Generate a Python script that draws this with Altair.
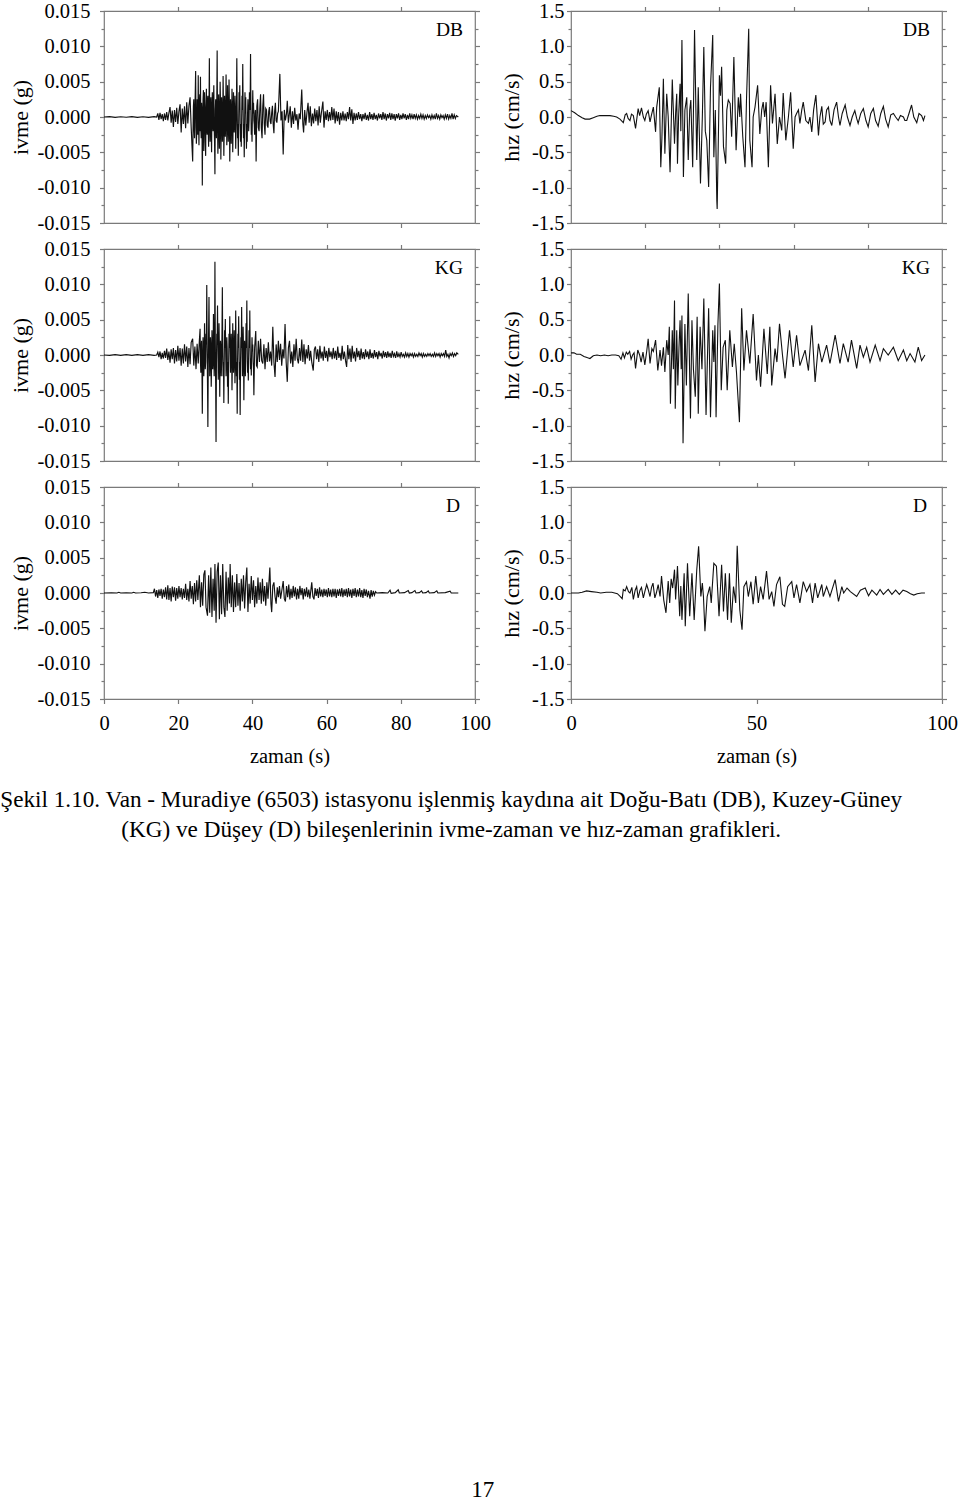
import altair as alt
import pandas as pd

FONT = "Liberation Serif"
PW, PH = 371, 212
GRAY = "#7a7a7a"

# ---------------- data (time in s, acceleration in milli-g, velocity in cm/s) ----------------
DB_ACC = [(0,0),(1.5,0.05),(3,-0.05),(4.5,0.04),(6,-0.04),(7.5,0.05),(9,-0.05),(10.5,0.04),(12,-0.05),(13.5,0.05),(14.2,0.0),
(14.5,0.5),(14.8,-0.4),(15.1,0.6),(15.4,-0.3),(15.7,0.4),(16.0,-0.6),(16.3,0.5),(16.6,-0.4),(16.9,0.7),(17.2,-0.5),(17.5,0.6),(17.8,1.4),(18.1,-0.8),(18.4,0.9),(18.7,-1.4),(19.0,1.0),(19.3,-0.7),(19.6,1.3),(19.9,-1.0),(20.2,0.8),(20.5,1.8),(20.8,-2.2),(21.1,1.2),(21.4,-1.0),(21.7,1.5),(22.0,-1.6),(22.3,2.1),(22.6,-0.9),(22.9,1.6),(23.2,2.8),(23.5,-1.5),
(23.9,-6.3),(24.0,-2.0),(24.1,1.5),(24.2,2.5),(24.3,-1.8),(24.4,-3.0),(24.5,1.0),(24.6,3.5),(24.7,6.5),(24.8,-1.5),(24.9,-3.8),(25.0,-2.0),(25.1,2.5),(25.2,1.0),(25.3,-2.5),(25.4,5.9),(25.5,-1.0),(25.6,-4.0),(25.7,1.5),(25.8,3.2),(25.9,-2.0),(26.0,5.7),(26.1,-1.5),(26.2,-3.0),(26.3,2.0),(26.4,1.0),(26.5,-9.7),(26.6,-1.0),(26.7,2.5),(26.8,3.8),(26.9,-4.8),(27.0,-1.0),(27.1,3.5),(27.2,1.5),(27.3,-3.5),(27.4,-5.5),(27.5,1.0),(27.6,4.0),(27.7,-1.5),(27.8,-2.5),(27.9,2.5),(28.0,3.0),(28.1,-2.0),(28.2,-4.2),(28.3,1.0),(28.4,8.3),(28.5,-1.0),(28.6,-3.5),(28.7,1.5),(28.8,2.8),(28.9,-2.0),(29.0,-5.0),(29.1,1.5),(29.2,3.5),(29.3,-1.0),(29.4,-2.0),(29.5,2.0),(29.6,4.5),(29.7,-1.5),(29.8,-3.5),(29.9,-8.1),(30.0,1.0),(30.1,2.5),(30.2,-1.5),(30.3,-3.0),(30.4,2.0),(30.5,9.4),(30.6,-1.0),(30.7,-5.2),(30.8,-2.0),(30.9,3.2),(31.0,1.0),(31.1,-4.5),(31.2,-1.5),(31.3,5.0),(31.4,2.0),(31.5,-6.0),(31.6,-1.0),(31.7,2.8),(31.8,1.0),(31.9,-3.5),(32.0,-1.5),(32.1,5.8),(32.2,1.5),(32.3,-5.5),(32.4,-2.0),(32.5,3.0),(32.6,1.0),(32.7,-2.8),(32.8,-1.0),(32.9,6.0),(33.0,1.5),(33.1,-4.0),(33.2,-1.5),(33.3,4.5),(33.4,1.0),(33.5,-3.5),(33.6,-1.0),(33.7,5.3),(33.8,1.5),(33.9,-6.3),(34.0,-2.0),(34.1,2.5),(34.2,1.0),(34.3,-3.8),(34.4,-1.0),(34.5,4.0),(34.6,1.0),(34.7,-5.0),(34.8,-1.5),(34.9,3.5),(35.0,1.0),(35.1,-2.2),(35.2,-1.0),(35.3,3.0),(35.4,1.0),(35.5,-4.5),(35.6,-1.5),(35.7,2.0),(35.8,8.3),(35.9,1.0),(36.0,-3.0),(36.1,-1.0),(36.2,-5.5),(36.3,-1.0),(36.4,3.5),(36.5,1.0),(36.6,4.5),(36.7,-1.0),(36.8,-3.5),(36.9,-1.0),(37.0,-4.2),(37.1,-0.5),(37.2,3.0),(37.3,1.0),(37.4,7.5),(37.5,1.0),(37.6,-3.0),(37.7,-1.0),(37.8,-5.7),(37.9,-1.0),(38.0,3.5),(38.1,0.5),(38.2,2.8),(38.3,-1.0),(38.4,-4.5),(38.5,-1.0),(38.6,-3.5),(38.7,0.5),(38.8,2.5),(38.9,0.5),(39.0,-2.0),(39.1,-0.5),(39.2,3.5),(39.3,1.0),(39.4,2.0),(39.5,8.9),(39.6,1.0),(39.7,-2.5),(39.8,-1.0),(39.9,-3.5),(40.0,0.5),(40.1,3.8),(40.2,0.5),(40.3,2.0),(40.4,-0.5),(40.5,-1.0),(40.6,-2.5),(40.7,0.5),(40.8,1.0),(40.9,-1.5),(41.0,-6.3),
(41.2,1.5),(41.4,2.5),(41.6,-1.5),(41.8,-2.0),(42.0,1.2),(42.2,3.2),(42.4,-1.5),(42.6,-3.0),(42.8,1.5),(43.0,3.2),(43.2,-1.0),(43.4,-2.5),(43.6,1.2),(43.8,1.0),(44.0,-1.2),(44.2,-1.5),(44.4,0.8),(44.6,1.4),(44.8,-0.6),(45.0,-1.0),(45.2,0.6),(45.4,1.6),(45.6,-1.0),(45.8,-2.3),(46.0,0.8),(46.2,2.0),(46.4,-0.5),(46.6,-0.8),(46.8,0.5),(47.0,0.8),(47.4,6.1),(47.7,-0.5),(48.0,0.8),(48.3,-5.3),(48.6,1.0),(48.9,-0.5),(49.2,0.5),(49.4,2.3),(49.7,-0.8),(50.0,0.6),(50.2,1.5),(50.5,-1.5),(50.8,0.8),(51.1,-1.0),(51.4,1.3),(51.7,-0.5),(52.0,0.4),(52.3,-1.8),(52.6,0.5),(52.9,-0.3),(53.3,3.9),(53.6,-1.0),(53.8,-2.2),(54.1,1.0),(54.4,-1.2),(54.7,0.6),(55.0,2.0),(55.3,-0.8),(55.6,1.5),(55.9,-1.3),(56.2,0.5),(56.5,-0.9),(56.8,1.2),(57.1,-0.6),(57.4,1.0),(57.7,-1.2),(58.0,1.5),(58.3,-0.8),(58.6,0.6),(59.0,2.2),(59.3,-1.5),(59.6,0.8),(59.9,-0.4),(60.2,1.0),(60.5,-0.6),(60.8,0.7),(61.1,-0.5),(61.4,1.4),(61.7,-0.4),(62.0,1.2),(62.3,-0.9),(62.6,0.8),(62.9,-0.6),(63.2,0.7),(63.5,-1.1),(63.8,0.6),(64.1,-0.5),(64.4,0.8),(64.7,-0.5),(65.0,0.5),(65.3,-0.6),(65.6,0.7),(65.9,-0.3),(66.2,1.4),(66.5,-0.5),(66.8,1.1),(67.1,-1.0),(67.4,0.6),(67.7,-0.5),(68.0,0.5),(68.3,-0.4),(68.6,0.7),(68.9,-0.3),(69.2,0.4),(69.5,-0.6),(69.8,0.4),(70.1,-0.3),(70.4,0.6),(70.7,-0.4),(71.0,0.3),(71.3,-0.5),(71.6,0.7),(71.9,-0.3),(72.2,0.4),(72.5,-0.4),(72.8,0.6),(73.1,-0.3),(73.4,0.3),(73.7,-0.5),(74.0,0.5),(74.3,-0.2),(74.6,0.4),(74.9,-0.4),(75.2,0.7),(75.5,-0.3),(75.8,0.5),(76.1,-0.5),(76.4,0.4),(76.7,-0.2),(77.0,0.6),(77.3,-0.4),(77.6,0.5),(77.9,-0.3),(78.2,0.4),(78.5,-0.5),(78.8,0.4),(79.1,-0.2),(79.4,0.5),(79.7,-0.4),(80.0,0.3),(80.3,-0.3),(80.6,0.5),(80.9,-0.2),(81.2,0.4),(81.5,-0.4),(81.8,0.3),(82.1,-0.3),(82.4,0.5),(82.7,-0.2),(83.0,0.3),(83.3,-0.3),(83.6,0.4),(83.9,-0.2),(84.2,0.3),(84.5,-0.3),(84.8,0.2),(85.1,-0.2),(85.4,0.4),(85.7,-0.2),(86.0,0.3),(86.3,-0.3),(86.6,0.2),(86.9,-0.2),(87.2,0.3),(87.5,-0.1),(87.8,0.2),(88.1,-0.3),(88.4,0.3),(88.7,-0.2),(89.0,0.2),(89.3,-0.3),(89.6,0.5),(89.9,-0.2),(90.2,0.2),(90.5,-0.3),(90.8,0.3),(91.1,-0.1),(91.4,0.2),(91.7,-0.3),(92.0,0.3),(92.3,-0.2),(92.6,0.4),(92.9,-0.3),(93.2,0.2),(93.5,-0.2),(93.8,0.5),(94.1,-0.3),(94.4,0.3),(94.7,-0.2),(95.0,0.2),(95.5,0.0)]

KG_ACC = [(0,0),(1.5,-0.05),(3,0.05),(4.5,-0.05),(6,0.05),(7.5,-0.05),(9,0.05),(10.5,-0.05),(12,0.05),(13.5,-0.05),(14.2,0),
(14.5,0.4),(14.8,-0.3),(15.1,0.5),(15.4,-0.6),(15.7,0.3),(16.0,-0.5),(16.3,0.6),(16.6,-0.4),(16.9,0.9),(17.2,-0.7),(17.5,0.5),(17.8,-1.1),(18.1,0.8),(18.4,-0.6),(18.7,1.0),(19.0,-1.2),(19.3,0.7),(19.6,-0.9),(19.9,1.3),(20.2,-0.8),(20.5,1.0),(20.8,-1.5),(21.1,0.9),(21.4,-1.2),(21.7,1.5),(22.0,-0.9),(22.3,1.2),(22.6,-1.7),(22.9,1.0),(23.2,-1.3),(23.5,1.8),(23.9,2.3),(24.2,-1.5),(24.5,1.2),(24.8,-2.0),(25.1,1.6),(25.4,-1.2),(25.7,2.0),
(25.9,3.7),(26.0,-1.0),(26.1,-2.5),(26.2,1.0),(26.3,2.0),(26.4,-1.5),(26.5,-8.3),(26.6,-1.0),(26.7,2.5),(26.8,1.0),(26.9,-3.0),(27.0,-1.0),(27.1,4.5),(27.2,1.0),(27.3,-2.0),(27.4,-1.0),(27.5,3.0),(27.6,1.5),(27.7,9.9),(27.8,1.0),(27.9,-4.0),(28.0,-10.2),(28.1,-1.5),(28.2,3.5),(28.3,8.2),(28.4,1.0),(28.5,-3.0),(28.6,-1.0),(28.7,2.5),(28.8,1.0),(28.9,-4.5),(29.0,-1.5),(29.1,3.5),(29.2,1.0),(29.3,-2.0),(29.4,-1.0),(29.5,5.8),(29.6,1.0),(29.7,-3.0),(29.8,-1.0),(29.9,13.2),(30.0,2.0),(30.1,-4.0),(30.2,-12.3),(30.3,-1.5),(30.4,3.0),(30.5,1.5),(30.6,7.0),(30.7,1.0),(30.8,-3.5),(30.9,-1.0),(31.0,4.5),(31.1,1.0),(31.2,-5.9),(31.3,-1.0),(31.4,2.0),(31.5,1.0),(31.6,-3.0),(31.7,-1.0),(31.8,3.0),(31.9,9.6),(32.0,1.0),(32.1,-3.0),(32.2,-1.0),(32.3,-6.8),(32.4,-1.0),(32.5,3.5),(32.6,1.0),(32.7,5.1),(32.8,0.5),(32.9,-3.0),(33.0,-1.0),(33.1,2.5),(33.2,1.0),(33.3,-4.5),(33.4,-1.0),(33.5,-6.9),(33.6,-1.0),(33.7,3.0),(33.8,1.0),(33.9,5.5),(34.0,1.0),(34.1,-2.5),(34.2,-0.5),(34.3,3.0),(34.4,1.0),(34.5,-5.0),(34.6,-1.0),(34.7,4.5),(34.8,1.0),(34.9,-2.5),(35.0,-1.0),(35.1,3.5),(35.2,1.0),(35.3,-4.0),(35.4,-1.0),(35.5,6.3),(35.6,1.0),(35.7,-3.0),(35.8,-1.0),(35.9,-8.3),(36.0,-1.0),(36.1,3.0),(36.2,1.0),(36.3,5.5),(36.4,1.0),(36.5,-3.5),(36.6,-1.0),(36.7,-8.5),(36.8,-1.0),(36.9,2.5),(37.0,1.0),(37.1,6.8),(37.2,1.0),(37.3,-3.0),(37.4,-1.0),(37.5,4.0),(37.6,1.0),(37.7,-6.4),(37.8,-1.0),(37.9,2.0),(38.0,0.5),(38.1,-3.0),(38.2,-0.5),(38.3,4.5),(38.4,1.0),(38.5,7.7),(38.6,1.0),(38.7,-2.5),(38.8,-1.0),(38.9,-3.6),(39.0,0.5),(39.1,3.5),(39.2,1.0),(39.3,6.3),(39.4,0.5),(39.5,-2.0),(39.6,-0.5),(39.7,-2.9),(39.8,0.5),(39.9,2.5),(40.0,0.5),(40.1,1.5),(40.2,-1.0),(40.3,-2.0),(40.4,-5.7),
(40.6,1.0),(40.9,3.4),(41.1,-1.5),(41.3,-1.7),(41.6,2.0),(41.9,-1.0),(42.2,2.3),(42.5,-0.8),(42.8,-1.2),(43.1,1.5),(43.4,-2.0),(43.7,1.0),(44.0,-1.0),(44.3,1.8),(44.6,-0.9),(44.9,0.5),(45.2,-1.5),(45.5,4.0),(45.8,-1.0),(46.1,-3.1),(46.4,1.5),(46.7,-1.0),(47.0,2.0),(47.3,-0.7),(47.6,1.6),(47.9,-1.5),(48.2,0.8),(48.5,-0.5),(48.8,4.4),(49.1,-1.0),(49.4,-3.8),(49.7,1.0),(50.0,2.0),(50.3,-1.2),(50.6,0.5),(50.9,-1.7),(51.2,1.5),(51.5,-0.8),(51.8,2.3),(52.1,-0.5),(52.4,-1.2),(52.7,1.0),(53.0,-0.8),(53.3,2.2),(53.6,-1.0),(53.9,1.5),(54.2,-1.3),(54.5,0.8),(54.8,-0.5),(55.1,1.4),(55.4,-0.8),(55.7,0.6),(56.0,-1.0),(56.4,-2.2),(56.7,0.8),(57.0,1.2),(57.3,-0.6),(57.6,0.8),(57.9,-1.0),(58.2,1.3),(58.5,-0.5),(58.8,0.5),(59.1,-0.8),(59.4,1.2),(59.7,-0.4),(60.0,0.6),(60.3,-0.9),(60.6,1.0),(60.9,-0.3),(61.2,0.5),(61.5,-0.6),(61.8,1.0),(62.1,-0.5),(62.4,0.6),(62.7,-0.7),(63.0,1.2),(63.3,-0.4),(63.6,0.3),(63.9,-0.8),(64.2,1.3),(64.5,-0.6),(64.8,0.5),(65.1,-0.8),(65.4,-1.7),(65.7,1.4),(66.0,-0.6),(66.3,0.9),(66.6,-1.0),(66.9,1.3),(67.2,-0.5),(67.5,0.5),(67.8,-0.9),(68.1,1.0),(68.4,-0.3),(68.7,0.6),(69.0,-0.7),(69.3,0.9),(69.6,-0.5),(69.9,0.4),(70.2,-0.6),(70.5,0.8),(70.8,-0.3),(71.1,0.5),(71.4,-0.6),(71.7,0.8),(72.0,-0.4),(72.3,0.3),(72.6,-0.5),(72.9,0.7),(73.2,-0.3),(73.5,0.4),(73.8,-0.6),(74.1,0.6),(74.4,-0.2),(74.7,0.3),(75.0,-0.5),(75.3,0.6),(75.6,-0.3),(75.9,0.4),(76.2,-0.4),(76.5,0.5),(76.8,-0.3),(77.1,0.3),(77.4,-0.4),(77.7,0.6),(78.0,-0.2),(78.3,0.2),(78.6,-0.4),(78.9,0.5),(79.2,-0.3),(79.5,0.2),(79.8,-0.3),(80.1,0.4),(80.4,-0.2),(80.7,0.1),(81.0,-0.3),(81.3,0.3),(81.6,-0.2),(81.9,0.2),(82.2,-0.3),(82.5,0.2),(82.8,-0.1),(83.1,0.2),(83.4,-0.3),(83.7,0.2),(84.0,-0.2),(84.3,0.1),(84.6,-0.2),(84.9,0.3),(85.2,-0.1),(85.5,0.2),(85.8,-0.3),(86.1,0.2),(86.4,-0.2),(86.7,0.1),(87.0,-0.2),(87.3,0.2),(87.6,-0.1),(87.9,0.2),(88.2,-0.2),(88.5,0.1),(88.8,-0.2),(89.1,0.3),(89.4,-0.2),(89.7,0.2),(90.0,-0.1),(90.3,0.2),(90.6,-0.3),(90.9,0.2),(91.2,-0.1),(91.5,0.2),(91.8,-0.2),(92.1,0.7),(92.4,-0.2),(92.7,0.1),(93.0,-0.4),(93.3,0.2),(93.6,-0.1),(93.9,0.3),(94.2,-0.2),(94.5,0.2),(94.8,-0.1),(95.1,0.3),(95.5,0.1)]

D_ACC = [(0,0),(2,0.03),(3.5,0),(4,0.1),(4.5,0),(6,0.03),(7.5,0),(8,0.1),(8.5,0),(10,0.03),(11,0.1),(12,0),(13.3,0.05),
(13.6,0.6),(13.9,-0.5),(14.2,0.4),(14.5,-0.7),(14.8,0.5),(15.1,-0.4),(15.4,0.6),(15.7,-0.8),(16.0,0.5),(16.3,-0.6),(16.6,0.8),(16.9,-0.9),(17.2,1.1),(17.5,-1.0),(17.8,0.7),(18.1,-1.2),(18.4,0.9),(18.7,-0.6),(19.0,0.8),(19.3,-1.1),(19.6,0.7),(19.9,-0.8),(20.2,1.0),(20.5,-0.6),(20.8,0.7),(21.1,-0.9),(21.4,0.6),(21.7,-0.7),(22.0,1.3),(22.3,-1.0),(22.6,0.6),(22.9,-1.2),(23.2,1.7),(23.5,-0.8),(23.8,1.0),(24.1,-1.6),(24.4,1.4),(24.7,-1.2),(25.0,1.8),(25.3,-1.0),(25.7,2.5),(26.0,-2.0),(26.3,1.5),(26.6,-1.8),(26.9,2.6),(27.2,3.2),(27.5,-2.0),(27.9,-3.2),(28.2,2.5),(28.5,-2.8),(28.8,3.6),(29.1,-3.4),(29.4,2.0),(29.7,-2.5),(29.9,4.1),(30.2,-4.2),(30.5,3.0),(30.8,4.3),(31.1,-3.7),(31.4,2.5),(31.7,-3.0),(32.0,4.1),(32.3,-2.0),(32.6,-3.4),(32.9,3.0),(33.2,-2.5),(33.5,2.2),(33.8,-1.5),(34.0,4.1),(34.3,-2.0),(34.6,2.5),(34.9,-2.7),(35.2,1.5),(35.5,-2.0),(35.8,2.7),(36.1,-1.8),(36.4,1.4),(36.7,-2.5),(37.0,2.0),(37.3,-1.2),(37.6,2.5),(37.9,-2.2),(38.2,1.5),(38.5,3.6),(38.8,-2.7),(39.1,1.3),(39.4,-1.5),(39.7,2.4),(40.0,-1.0),(40.3,1.8),(40.6,-2.0),(40.9,1.0),(41.2,-1.5),(41.5,2.2),(41.8,-1.0),(42.1,1.5),(42.4,-1.5),(42.7,2.0),(43.0,-1.2),(43.3,1.0),(43.6,-1.8),(43.9,1.5),(44.2,-0.8),(44.7,3.6),(45.0,-1.5),(45.2,-2.7),(45.5,1.0),(45.8,1.5),(46.1,-0.5),(46.4,-1.5),(46.7,0.8),(47.0,-0.6),(47.3,1.0),(47.6,-0.8),(48.0,0.6),(48.3,1.7),(48.6,-0.8),(48.9,-1.2),(49.2,1.0),(49.5,-0.6),(49.8,1.2),(50.1,-0.9),(50.4,0.6),(50.7,-0.7),(51.0,1.0),(51.3,-0.5),(51.6,0.8),(51.9,-0.9),(52.2,0.6),(52.5,-0.8),(52.8,1.0),(53.1,-0.3),(53.4,0.7),(53.7,-0.9),(54.0,0.6),(54.3,-0.5),(54.6,0.8),(54.9,-0.6),(55.2,0.5),(55.5,-0.8),(56.0,1.5),(56.3,-0.5),(56.6,-0.9),(56.9,0.7),(57.2,-0.4),(57.5,0.6),(57.8,-0.7),(58.1,0.8),(58.4,-0.5),(58.7,0.5),(59.0,-0.6),(59.3,0.6),(59.6,-0.4),(59.9,0.5),(60.2,-0.6),(60.5,0.7),(60.8,-0.5),(61.1,0.5),(61.4,-0.6),(61.7,0.6),(62.0,-0.5),(62.3,0.6),(62.6,-0.7),(62.9,0.5),(63.2,-0.4),(63.5,0.6),(63.8,-0.5),(64.1,0.7),(64.4,-0.6),(64.7,0.5),(65.0,-0.4),(65.3,0.6),(65.6,-0.6),(65.9,0.7),(66.2,-0.5),(66.5,0.5),(66.8,-0.7),(67.1,0.6),(67.4,-0.4),(67.7,0.7),(68.0,-0.6),(68.3,0.5),(68.6,-0.5),(68.9,0.7),(69.2,-0.6),(69.5,0.4),(69.8,-0.7),(70.1,0.6),(70.4,-0.4),(70.7,0.5),(71.0,-0.6),(71.3,0.3),(71.7,-0.8),(72.0,0.4),(72.3,-0.5),(72.6,0.3),(72.9,-0.3),(73.2,0.2),
(73.5,0.0),(75.0,0.05),(76.5,0.0),(77.1,0.4),(77.4,-0.05),(78.5,0.05),(79.3,0.45),(79.6,0),(81.0,0.05),(82.0,0.35),(82.3,0),(83.0,0.05),(83.8,0.35),(84.1,0),(85.0,0.05),(85.6,0.3),(85.9,0),(86.8,0.05),(87.4,0.3),(87.7,0),(89.0,0.05),(89.7,0.3),(90.0,0),(92.0,0.05),(93.3,0.25),(93.6,0),(95.5,0.0)]

DB_VEL = [(0,0.09),(1.0,0.06),(2.0,0.02),(3.0,-0.01),(3.8,-0.03),(5.0,-0.03),(6.0,-0.01),(7.0,0.01),(7.8,0.02),(9.0,0.02),(10.5,0.02),(11.5,0.01),(12.3,0.0),(13.2,-0.03),(14.1,-0.08),
(14.6,0.03),(15.0,0.05),(15.4,-0.02),(15.9,-0.05),(16.3,0.04),(16.8,0.02),(17.4,-0.16),(18.1,0.12),(18.5,0.02),(19.0,0.13),(19.5,0.0),(19.9,-0.05),(20.3,0.04),(20.8,0.09),(21.3,-0.07),(21.7,0.03),(22.2,0.14),(22.8,-0.21),(23.1,0.14),
(23.8,0.42),(24.2,-0.71),(24.5,-0.3),(24.9,0.54),(25.3,-0.52),(25.8,0.33),(26.2,0.0),(26.7,-0.78),(27.3,0.53),(27.9,-0.38),(28.2,0.05),(28.5,0.33),(28.7,-0.66),(29.0,0.0),(29.4,0.47),(29.6,-0.2),(29.9,1.09),(30.3,-0.85),(30.7,0.1),(31.2,0.28),(31.6,-0.61),(32.0,0.1),(32.3,0.24),(32.8,-0.71),(33.3,1.23),(33.9,-0.61),(34.3,0.42),(34.9,-0.94),(35.4,0.0),(35.8,0.99),(36.2,-0.2),(36.6,-0.33),(37.1,-0.99),(37.6,0.42),(38.2,1.16),(38.5,-0.57),(38.9,0.1),(39.3,-1.18),(39.4,-1.3),(40.0,0.59),(40.3,0.3),(40.6,0.71),(41.1,-0.42),(41.7,-0.66),(42.0,0.1),(42.4,0.24),(42.9,0.19),(43.3,-0.28),(43.9,0.85),(44.5,-0.47),(45.1,0.28),(45.5,0.0),(45.7,0.33),(46.3,-0.28),(46.9,-0.71),(47.3,0.24),(47.9,1.25),(48.2,-0.33),(48.8,-0.71),(49.1,0.0),(49.6,0.14),(50.3,0.45),(50.9,-0.24),(51.4,0.1),(51.8,0.21),(52.2,0.0),(52.6,0.21),(53.2,-0.71),(53.8,0.45),(54.3,-0.09),(55.0,0.33),(55.6,-0.38),(56.2,0.0),(56.8,-0.19),(57.2,0.34),(57.9,-0.33),(58.6,0.0),(59.2,0.35),(59.9,-0.45),(60.4,0.0),(60.8,0.05),(61.3,0.1),(61.7,-0.09),(62.2,0.1),(62.6,0.21),(63.3,-0.05),(64.0,-0.09),(64.4,0.0),(64.9,-0.21),(65.4,0.1),(66.0,0.31),(66.7,-0.26),(67.1,0.0),(67.6,0.15),(68.0,-0.1),(68.5,-0.07),(68.9,0.1),(69.4,0.14),(69.8,-0.05),(70.3,-0.12),(70.9,0.1),(71.6,0.21),(72.1,0.0),(72.5,-0.12),(73.1,0.05),(73.9,0.17),(74.5,0.0),(75.2,-0.12),(75.8,0.0),(76.5,0.09),(77.0,-0.02),(77.4,-0.09),(78.1,0.05),(78.8,0.12),(79.5,-0.05),(80.1,-0.14),(80.8,0.05),(81.5,0.12),(82.1,-0.05),(82.8,-0.13),(83.5,0.05),(84.2,0.15),(84.8,-0.03),(85.5,-0.14),(86.2,0.03),(86.9,0.05),(87.5,0.0),(88.2,-0.05),(88.8,0.02),(89.6,0.0),(90.0,-0.05),(90.5,-0.05),(91.1,0.05),(91.8,0.17),(92.4,0.0),(93.2,-0.08),(93.8,0.05),(94.5,0.02),(95.0,-0.05),(95.4,0.02)]

KG_VEL = [(0,0.03),(0.8,0.03),(1.5,0.01),(2.5,0.01),(3.5,-0.02),(4.5,-0.04),(5.1,-0.05),(6.0,-0.01),(7.0,0.0),(8.0,-0.01),(9.0,0.0),(10.0,-0.01),(11.0,0.0),(12.0,0.0),(12.9,-0.01),(13.5,-0.06),(14.0,0.03),(14.4,-0.04),(14.9,0.04),(15.3,0.01),(15.8,0.05),(16.2,-0.06),(16.6,0.0),(17.0,0.03),(17.4,-0.19),(18.0,0.07),(18.5,0.0),(18.9,-0.10),(19.4,0.04),(19.9,-0.14),(20.4,0.05),(20.8,0.23),(21.3,-0.12),(21.8,0.09),(22.2,0.05),(22.8,0.21),(23.4,-0.22),(24.0,0.07),(24.4,-0.15),(24.9,0.11),(25.3,-0.24),(25.8,0.21),(26.2,0.0),(26.5,0.40),(26.8,-0.69),(27.3,0.35),(27.6,-0.2),(27.9,0.77),(28.1,-0.76),(28.5,0.35),(28.8,-0.43),(29.1,0.1),(29.4,0.49),(29.7,-0.2),(29.9,0.56),(30.2,-1.25),(30.7,0.44),(31.1,-0.43),(31.6,0.87),(32.2,-0.90),(32.6,0.49),(33.0,-0.2),(33.5,-0.59),(34.0,0.54),(34.3,-0.83),(34.8,0.40),(35.3,-0.2),(35.8,0.80),(36.4,-0.85),(37.1,0.66),(37.6,-0.88),(38.2,0.35),(38.5,-0.1),(38.8,0.42),(39.1,-0.88),(39.6,0.44),(40.0,1.01),(40.5,-0.50),(41.0,0.11),(41.6,0.21),(42.1,-0.50),(42.8,0.35),(43.5,-0.17),(44.0,0.16),(44.6,-0.24),(45.4,-0.95),(46.0,0.66),(46.6,-0.22),(47.3,0.35),(48.2,-0.12),(49.1,0.58),(50.0,-0.36),(50.5,0.0),(51.1,-0.45),(52.0,0.37),(52.9,-0.27),(53.6,0.40),(54.1,-0.43),(55.0,0.09),(55.5,-0.1),(56.2,0.44),(57.0,0.0),(57.7,-0.33),(58.9,0.35),(59.9,-0.17),(60.8,0.28),(61.7,-0.15),(63.1,0.07),(64.0,-0.22),(64.9,0.42),(65.8,-0.38),(66.7,0.16),(67.6,-0.10),(68.9,0.14),(69.8,-0.12),(71.2,0.28),(72.5,-0.12),(73.4,0.16),(74.7,-0.10),(75.6,0.21),(77.0,-0.19),(77.9,0.14),(78.8,-0.03),(79.7,0.11),(80.6,-0.10),(82.0,0.14),(83.3,-0.08),(84.2,0.09),(85.5,0.0),(86.9,0.11),(88.2,-0.08),(89.6,0.07),(90.5,-0.08),(91.4,0.02),(92.7,-0.10),(93.6,0.11),(94.5,-0.08),(95.4,0.0)]

D_VEL = [(0,0.0),(2.0,0.0),(3.0,0.01),(4.2,0.03),(5.5,0.02),(7.0,0.01),(8.0,0.0),(9.5,0.01),(11.0,0.01),(12.5,-0.01),(13.3,-0.05),(13.8,-0.08),(14.1,0.05),(14.6,0.03),(15.0,0.09),(15.5,0.02),(15.9,0.0),(16.4,0.08),(16.8,-0.09),(17.3,0.04),(17.7,0.09),(18.1,-0.07),(18.6,0.04),(19.0,0.08),(19.5,-0.07),(19.9,0.02),(20.4,0.12),(20.8,0.05),(21.3,-0.05),(21.7,0.08),(22.1,0.14),(22.6,-0.07),(23.0,0.0),(23.5,0.12),(24.0,-0.05),(24.4,0.24),(25.0,-0.1),(25.6,-0.28),(26.2,0.17),(26.6,-0.14),(27.0,0.2),(27.4,0.07),(27.9,0.33),(28.2,-0.09),(28.7,0.38),(29.3,-0.33),(29.6,0.1),(29.9,-0.38),(30.5,0.28),(30.8,-0.47),(31.4,0.42),(32.0,-0.33),(32.6,0.28),(33.2,-0.38),(33.9,0.33),(34.4,0.66),(35.0,-0.05),(35.4,0.14),(35.7,-0.05),(36.1,-0.54),(36.7,-0.05),(37.4,0.09),(37.8,-0.14),(38.5,0.42),(39.2,0.38),(39.9,-0.33),(40.6,0.40),(41.1,-0.26),(41.6,0.28),(42.2,-0.38),(42.7,0.28),(43.2,-0.42),(43.8,0.09),(44.4,-0.14),(44.8,0.67),(45.5,-0.24),(46.1,-0.52),(46.6,0.09),(47.3,0.16),(47.8,-0.05),(48.5,0.16),(49.1,-0.16),(49.8,0.24),(50.5,-0.14),(51.1,0.09),(51.8,-0.09),(52.7,0.31),(53.4,-0.09),(54.1,0.02),(54.7,-0.19),(55.4,0.12),(56.3,0.23),(57.0,-0.16),(57.6,-0.19),(58.4,0.09),(59.5,0.16),(60.1,-0.07),(60.8,0.12),(61.7,-0.14),(62.6,0.16),(63.5,0.02),(64.4,0.12),(65.1,-0.14),(65.8,0.14),(66.5,-0.07),(67.6,0.12),(68.0,-0.05),(68.9,0.09),(69.8,-0.05),(71.2,0.19),(72.1,-0.12),(73.0,0.09),(73.5,0.0),(74.4,0.07),(75.3,0.02),(77.0,-0.05),(78.0,0.04),(79.3,0.07),(80.2,-0.04),(81.1,0.04),(82.4,-0.03),(83.3,0.05),(84.2,-0.02),(85.5,0.05),(86.5,-0.02),(87.5,0.04),(88.5,-0.02),(89.5,0.04),(90.5,0.02),(91.5,-0.01),(92.4,-0.03),(93.3,-0.01),(94.5,0.0),(95.4,0.0)]

COMPONENTS = ["DB", "KG", "D"]
ACC_MAJOR = [-0.015, -0.010, -0.005, 0.0, 0.005, 0.010, 0.015]
ACC_MINOR = [-0.0125, -0.0075, -0.0025, 0.0025, 0.0075, 0.0125]
VEL_MAJOR = [-1.5, -1.0, -0.5, 0.0, 0.5, 1.0, 1.5]
VEL_MINOR = [-1.25, -0.75, -0.25, 0.25, 0.75, 1.25]
X_TICKS_20 = [20, 40, 60, 80]
X_LABELS_20 = [0, 20, 40, 60, 80, 100]
X_TICKS_50 = [50]
X_LABELS_50 = [0, 50, 100]
ACC_TITLE = "ivme (g)"
VEL_TITLE = "hız (cm/s)"
X_TITLE = "zaman (s)"
CAPTION = ["Şekil 1.10. Van - Muradiye (6503) istasyonu işlenmiş kaydına ait Doğu-Batı (DB), Kuzey-Güney",
           "(KG) ve Düşey (D) bileşenlerinin ivme-zaman ve hız-zaman grafikleri."]
PAGE = "17"

FIX_MINUS = "replace(datum.label, '\u2212', '-')"


def panel(pairs, unit, major, minor, fmt, ytitle, ytitle_x, ylabel_pad, name, name_dx,
          xbottom, xtop, show_xlabels, stroke_w):
    df = pd.DataFrame(pairs, columns=["t", "v"])
    df["v"] = df["v"] * unit
    ymax = major[-1]
    xs = alt.Scale(domain=[0, 100], nice=False, zero=False)
    ys = alt.Scale(domain=[-ymax, ymax], nice=False, zero=False)
    if show_xlabels:
        xaxis = alt.Axis(orient="bottom", values=xbottom, labels=True, title=X_TITLE,
                         tickSize=4.5, labelPadding=10, titleY=57, titleBaseline="middle",
                         domain=False, grid=False)
    else:
        xaxis = alt.Axis(orient="bottom", values=xbottom, labels=False, title=None,
                         tickSize=4.5, domain=False, grid=False)
    line = alt.Chart(df).mark_line(color="#111111", strokeWidth=stroke_w).encode(
        x=alt.X("t:Q", scale=xs, axis=xaxis),
        y=alt.Y("v:Q", scale=ys, axis=alt.Axis(
            orient="left", values=major, format=fmt, labelExpr=FIX_MINUS, title=ytitle,
            titleX=ytitle_x, titleY=PH / 2, titleBaseline="middle", titleFontSize=22,
            labelPadding=ylabel_pad, tickSize=4.5, domain=False, grid=False)),
    )
    pts = pd.DataFrame({"t": [0.0], "v": [0.0]})
    a2 = alt.Chart(pts).mark_point(opacity=0).encode(
        x=alt.X("t:Q", scale=xs, axis=alt.Axis(orient="top", values=xtop, labels=False, title=None,
                                                tickSize=4.5, domain=False, grid=False)),
        y=alt.Y("v:Q", scale=ys, axis=alt.Axis(orient="left", values=minor, labels=False, title=None,
                                                tickSize=3, domain=False, grid=False)),
    )
    a3 = alt.Chart(pts).mark_point(opacity=0).encode(
        x=alt.X("t:Q", scale=xs, axis=None),
        y=alt.Y("v:Q", scale=ys, axis=alt.Axis(orient="right", values=major, labels=False, title=None,
                                                tickSize=4.5, domain=False, grid=False)),
    )
    a4 = alt.Chart(pts).mark_point(opacity=0).encode(
        x=alt.X("t:Q", scale=xs, axis=None),
        y=alt.Y("v:Q", scale=ys, axis=alt.Axis(orient="right", values=minor, labels=False, title=None,
                                                tickSize=3, domain=False, grid=False)),
    )
    lab = alt.Chart(pd.DataFrame({"name": [name]})).mark_text(
        align="right", baseline="middle", font=FONT, fontSize=19.5, color="black"
    ).encode(x=alt.value(PW - name_dx), y=alt.value(19), text="name:N")
    return alt.layer(line, a2, a3, a4, lab).resolve_axis(
        x="independent", y="independent").properties(width=PW, height=PH)


acc_data = [DB_ACC, KG_ACC, D_ACC]
vel_data = [DB_VEL, KG_VEL, D_VEL]
name_dx = [12, 12, 15]
panels = []
for i in range(3):
    last = i == 2
    panels.append(panel(acc_data[i], 0.001, ACC_MAJOR, ACC_MINOR, ".3f", ACC_TITLE, -84, 9.5,
                        COMPONENTS[i], name_dx[i],
                        X_LABELS_20 if last else X_TICKS_20, X_TICKS_20, last, 1.15))
    panels.append(panel(vel_data[i], 1.0, VEL_MAJOR, VEL_MINOR, ".1f", VEL_TITLE, -60, 2.5,
                        COMPONENTS[i], name_dx[i],
                        X_LABELS_50 if last else X_TICKS_20, X_TICKS_50 if last else X_TICKS_20, last, 1.1))

chart = alt.concat(
    *panels, columns=2, spacing={"row": 26, "column": 96}, bounds="flush",
    title=alt.Title(text=CAPTION, orient="bottom", anchor="middle", frame="bounds",
                    offset=22, dx=-32, lineHeight=30,
                    subtitle="\u200b" + "\u00a0" * 11 + PAGE, subtitlePadding=637),
).properties(
    padding={"left": 104, "top": 11, "right": 856, "bottom": 1490},
    autosize=alt.AutoSizeParams(type="none"),
).configure_view(
    stroke=GRAY, strokeWidth=1.2
).configure_axis(
    labelFont=FONT, titleFont=FONT, labelFontSize=20.5, titleFontSize=20.5,
    labelColor="black", titleColor="black", titleFontWeight="normal",
    tickColor=GRAY, tickWidth=1.2, labelFlush=False, labelOverlap=False
).configure_title(
    font=FONT, fontSize=23.2, fontWeight="normal", color="black",
    subtitleFont=FONT, subtitleFontSize=23, subtitleColor="black"
)

chart.save("out.html", embed_options={"renderer": "svg", "actions": False})
